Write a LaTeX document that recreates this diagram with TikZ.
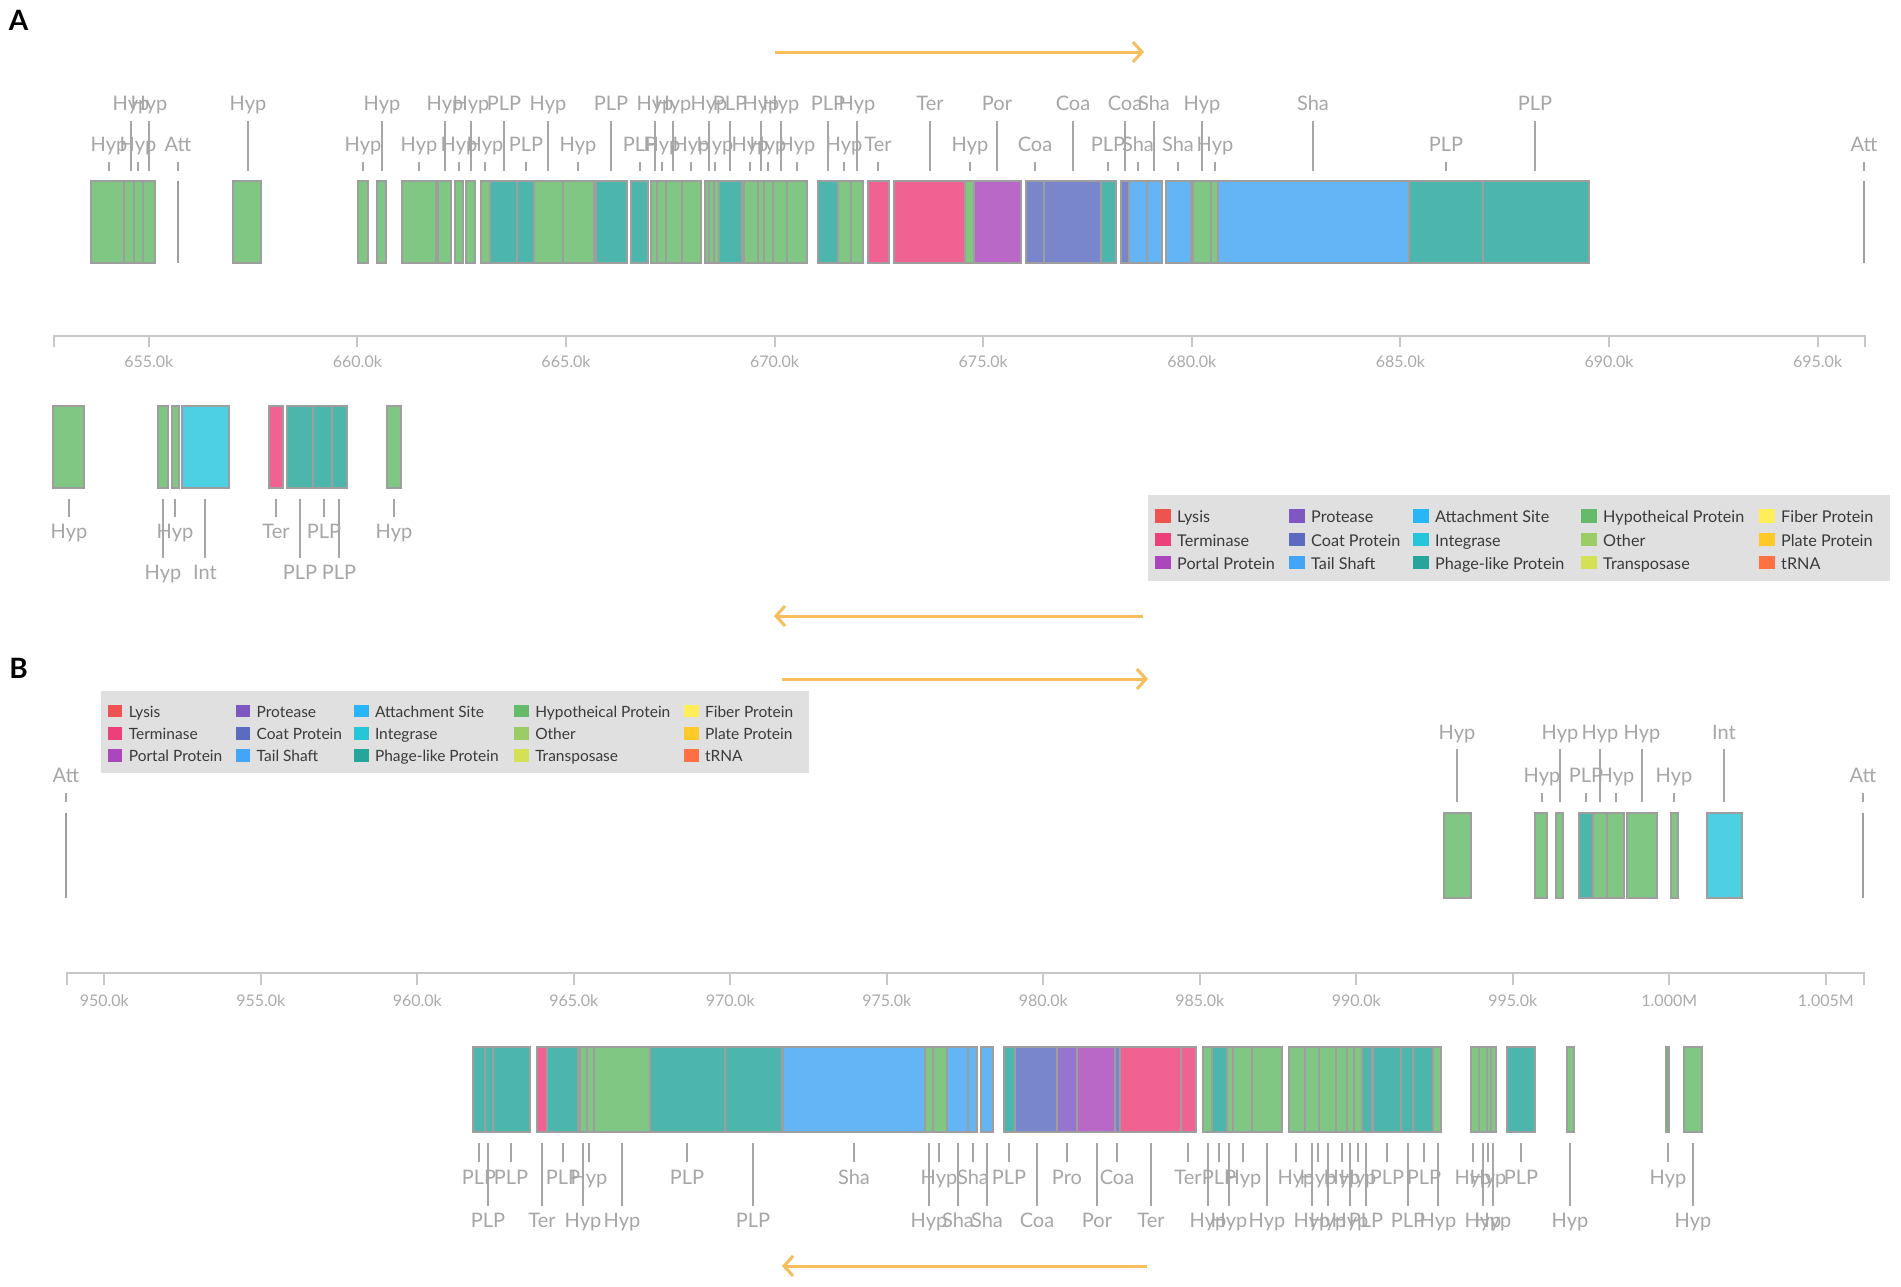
\documentclass[tikz,border=0pt]{standalone}
\usepackage{fontspec}
\setmainfont{Lato}
\usetikzlibrary{arrows.meta}

% block colours
\definecolor{hypc}{HTML}{81C784}
\definecolor{plpc}{HTML}{4DB6AC}
\definecolor{terc}{HTML}{F06292}
\definecolor{porc}{HTML}{BA68C8}
\definecolor{coac}{HTML}{7986CB}
\definecolor{proc}{HTML}{9575CD}
\definecolor{shac}{HTML}{64B5F6}
\definecolor{intc}{HTML}{4DD0E1}
% legend colours
\definecolor{lysc}{HTML}{EF5350}
\definecolor{trmc}{HTML}{EC407A}
\definecolor{ptlc}{HTML}{AB47BC}
\definecolor{prtc}{HTML}{7E57C2}
\definecolor{cotc}{HTML}{5C6BC0}
\definecolor{tlsc}{HTML}{42A5F5}
\definecolor{atsc}{HTML}{29B6F6}
\definecolor{igsc}{HTML}{26C6DA}
\definecolor{plkc}{HTML}{26A69A}
\definecolor{hypl}{HTML}{66BB6A}
\definecolor{othc}{HTML}{9CCC65}
\definecolor{trpc}{HTML}{D4E157}
\definecolor{fibc}{HTML}{FFEE58}
\definecolor{plac}{HTML}{FFCA28}
\definecolor{trnc}{HTML}{FF7043}
% greys
\definecolor{boxgray}{HTML}{9E9E9E}
\definecolor{taggray}{HTML}{A6A6A6}
\definecolor{axisgray}{HTML}{C8C8C8}
\definecolor{axistext}{HTML}{ABABAB}
\definecolor{legendgray}{HTML}{E0E0E0}
\definecolor{legendink}{HTML}{3A3A3A}
\definecolor{strandc}{HTML}{F9BE5C}

\tikzset{
  genebox/.style={draw=boxgray, line width=1.5pt},
  attline/.style={draw=boxgray, line width=2.5pt},
  tagline/.style={draw=taggray, line width=2pt},
  genetag/.style={anchor=base, inner sep=0pt, text=taggray, font=\fontsize{20}{20}\selectfont},
  axisline/.style={draw=axisgray, line width=2pt},
  axistag/.style={anchor=base, inner sep=0pt, text=axistext, font=\fontsize{16}{16}\selectfont},
  strand/.style={draw=strandc, line width=3pt, -{Straight Barb[length=9pt, width=20pt]}},
  panel/.style={inner sep=0pt, font=\fontsize{28}{28}\selectfont\bfseries},
  legendbg/.style={fill=legendgray},
  legendtext/.style={anchor=base west, inner sep=0pt, text=legendink},
}

% #1 top, #2 bottom, #3 list x1/x2/colour
\newcommand{\genetrack}[3]{%
  \foreach \xa/\xb/\clr in {#3} {\draw[genebox, fill=\clr] (\xa,#1) rectangle (\xb,#2);}}
% #1 name, #2 line from, #3 line to, #4 text baseline, #5 list x/text
\newcommand{\genetags}[5]{%
  \foreach \x/\t [count=\k] in {#5} {%
    \draw[tagline] (\x,#2) -- (\x,#3);
    \node[genetag] (#1-\k) at (\x,#4) {\t};}}
% #1 corner, #2 scale, #3 font size, #4 name
\newcommand{\genelegend}[4]{%
  \begin{scope}[shift={#1}, scale=#2]
    \fill[legendbg] (0,0) rectangle (742,86);
    \foreach \cx/\ry/\clr/\txt [count=\k] in {7/1/lysc/Lysis, 7/2/trmc/Terminase, 7/3/ptlc/Portal Protein,
        141/1/prtc/Protease, 141/2/cotc/Coat Protein, 141/3/tlsc/Tail Shaft,
        265/1/atsc/Attachment Site, 265/2/igsc/Integrase, 265/3/plkc/Phage-like Protein,
        433/1/hypl/Hypotheical Protein, 433/2/othc/Other, 433/3/trpc/Transposase,
        611/1/fibc/Fiber Protein, 611/2/plac/Plate Protein, 611/3/trnc/tRNA} {%
      \fill[\clr] (\cx,{23.3*\ry-9}) rectangle ++(15.5,13.4);
      \node[legendtext, font=\fontsize{#3}{#3}\selectfont] (#4-\k) at (\cx+22,{23.3*\ry+4.4}) {\txt};}
  \end{scope}}

\begin{document}
\begin{tikzpicture}[x=1pt, y=-1pt]
  \useasboundingbox[fill=white] (0,0) rectangle (1901,1286);

  %% panel A
  \node[panel] (pa) at (18.5,20) {A};
  \coordinate (a1s) at (775,52);  \coordinate (a1e) at (1144,52);
  \draw[strand] (a1s) -- (a1e);

  \genetrack{181}{263}{91/124/hypc,124/134/hypc,134/143/hypc,143/155/hypc,233/261/hypc,358/368/hypc,377/386/hypc,
    402/436/hypc,438/451/hypc,455/463/hypc,466/475/hypc,481/490/hypc,490/517/plpc,517/534/plpc,534/563/hypc,
    563/594/hypc,596/627/plpc,631/648/plpc,651/657/hypc,657/666/hypc,666/682/hypc,682/701/hypc,705/709/hypc,
    709/714/hypc,714/719/hypc,719/742/plpc,744/758/hypc,758/764/hypc,764/773/hypc,773/787/hypc,787/807/hypc,
    818/838/plpc,838/851/hypc,851/863/hypc,868/889/terc,894/965/terc,965/974/hypc,974/1021/porc,1026/1044/coac,
    1044/1101/coac,1101/1116/plpc,1121/1129/coac,1129/1147/shac,1147/1162/shac,1166/1191/shac,1193/1211/hypc,
    1211/1218/hypc,1218/1409/shac,1409/1483/plpc,1483/1589/plpc}
  \draw[attline] (178,181) -- (178,263);
  \draw[attline] (1864,181) -- (1864,263);
  \genetags{atu}{121}{171}{110}{131/Hyp,149/Hyp,248/Hyp,382/Hyp,445/Hyp,471/Hyp,504/PLP,548/Hyp,611/PLP,
    655/Hyp,673/Hyp,709/Hyp,730/PLP,761/Hyp,781/Hyp,828/PLP,857/Hyp,930/Ter,997/Por,1073/Coa,1125/Coa,
    1154/Sha,1202/Hyp,1313/Sha,1535/PLP}
  \genetags{atl}{162}{171}{151}{109/Hyp,138/Hyp,178/Att,363/Hyp,419/Hyp,459/Hyp,485/Hyp,526/PLP,578/Hyp,
    640/PLP,662/Hyp,691/Hyp,715/Hyp,750/Hyp,768/Hyp,797/Hyp,844/Hyp,878/Ter,970/Hyp,1035/Coa,1108/PLP,
    1138/Sha,1178/Sha,1215/Hyp,1446/PLP,1864/Att}

  % scale A
  \draw[axisline] (54,347) -- (54,336) -- (1865,336) -- (1865,347);
  \foreach \lbl [count=\i from 0] in {655.0k,660.0k,665.0k,670.0k,675.0k,680.0k,685.0k,690.0k,695.0k} {
    \draw[axisline] ({148.8+208.6*\i},336) -- ++(0,11);
    \node[axistag] (axa-\i) at ({148.8+208.6*\i},367) {\lbl};}

  \genetrack{406}{488}{53/84/hypc,158/168/hypc,172/179/hypc,182/229/intc,269/283/terc,287/313/plpc,
    313/332/plpc,332/347/plpc,387/401/hypc}
  \genetags{abn}{499}{517}{538}{69/Hyp,175/Hyp,276/Ter,324/PLP,394/Hyp}
  \genetags{abf}{499}{558}{579}{163/Hyp,205/Int,300/PLP,339/PLP}

  \genelegend{(1148,495)}{1}{16.2}{lga}
  \coordinate (a2s) at (1143,616);  \coordinate (a2e) at (774,616);
  \draw[strand] (a2s) -- (a2e);

  %% panel B
  \node[panel] (pb) at (18.5,668) {B};
  \coordinate (b1s) at (782,679);  \coordinate (b1e) at (1148,679);
  \draw[strand] (b1s) -- (b1e);
  \genelegend{(101,691)}{0.954}{15.5}{lgb}

  \genetrack{813}{898}{1444/1471/hypc,1535/1547/hypc,1556/1563/hypc,1579/1593/plpc,1593/1607/hypc,
    1607/1624/hypc,1627/1657/hypc,1671/1678/hypc,1707/1742/intc}
  \draw[attline] (66,813) -- (66,898);
  \draw[attline] (1863,813) -- (1863,898);
  \genetags{btu}{749}{802}{739}{1457/Hyp,1560/Hyp,1600/Hyp,1642/Hyp,1724/Int}
  \genetags{btl}{793}{802}{782}{66/Att,1542/Hyp,1586/PLP,1616/Hyp,1674/Hyp,1863/Att}

  % scale B
  \draw[axisline] (67,985) -- (67,973) -- (1864,973) -- (1864,985);
  \foreach \lbl [count=\i from 0] in {950.0k,955.0k,960.0k,965.0k,970.0k,975.0k,980.0k,985.0k,990.0k,995.0k,1.000M,1.005M} {
    \draw[axisline] ({104.3+156.5*\i},973) -- ++(0,12);
    \node[axistag] (axb-\i) at ({104.3+156.5*\i},1006) {\lbl};}

  \genetrack{1047}{1132}{473/485/plpc,485/493/plpc,493/530/plpc,537/547/terc,547/578/plpc,580/587/hypc,
    587/594/hypc,594/650/hypc,650/725/plpc,725/782/plpc,783/925/shac,925/933/hypc,933/947/hypc,947/968/shac,
    968/977/shac,981/993/shac,1004/1015/plpc,1015/1057/coac,1057/1077/proc,1077/1115/porc,1115/1120/coac,
    1120/1181/terc,1181/1196/terc,1203/1212/hypc,1212/1227/plpc,1227/1233/hypc,1233/1252/hypc,1252/1282/hypc,
    1289/1305/hypc,1305/1319/hypc,1319/1336/hypc,1336/1347/hypc,1347/1354/hypc,1354/1362/hypc,1362/1372/plpc,
    1373/1401/plpc,1401/1413/plpc,1413/1433/plpc,1433/1441/hypc,1471/1479/hypc,1479/1487/hypc,1487/1491/hypc,
    1491/1496/hypc,1507/1535/plpc,1567/1574/hypc,1666/1669/hypl,1684/1702/hypc}
  \genetags{bbn}{1143}{1162}{1184}{479/PLP,511/PLP,563/PLP,589/Hyp,687/PLP,854/Sha,939/Hyp,973/Sha,1009/PLP,
    1067/Pro,1117/Coa,1188/Ter,1219/PLP,1243/Hyp,1296/Hyp,1318/Hyp,1342/Hyp,1358/Hyp,1387/PLP,1424/PLP,
    1473/Hyp,1488/Hyp,1521/PLP,1668/Hyp}
  \genetags{bbf}{1143}{1206}{1227}{488/PLP,542/Ter,583/Hyp,622/Hyp,753/PLP,929/Hyp,958/Sha,987/Sha,1037/Coa,
    1097/Por,1151/Ter,1208/Hyp,1229/Hyp,1267/Hyp,1312/Hyp,1328/Hyp,1350/Hyp,1366/PLP,1408/PLP,1438/Hyp,
    1483/Hyp,1493/Hyp,1570/Hyp,1693/Hyp}
  \coordinate (b2s) at (1147,1266);  \coordinate (b2e) at (782,1266);
  \draw[strand] (b2s) -- (b2e);
\end{tikzpicture}
\end{document}
